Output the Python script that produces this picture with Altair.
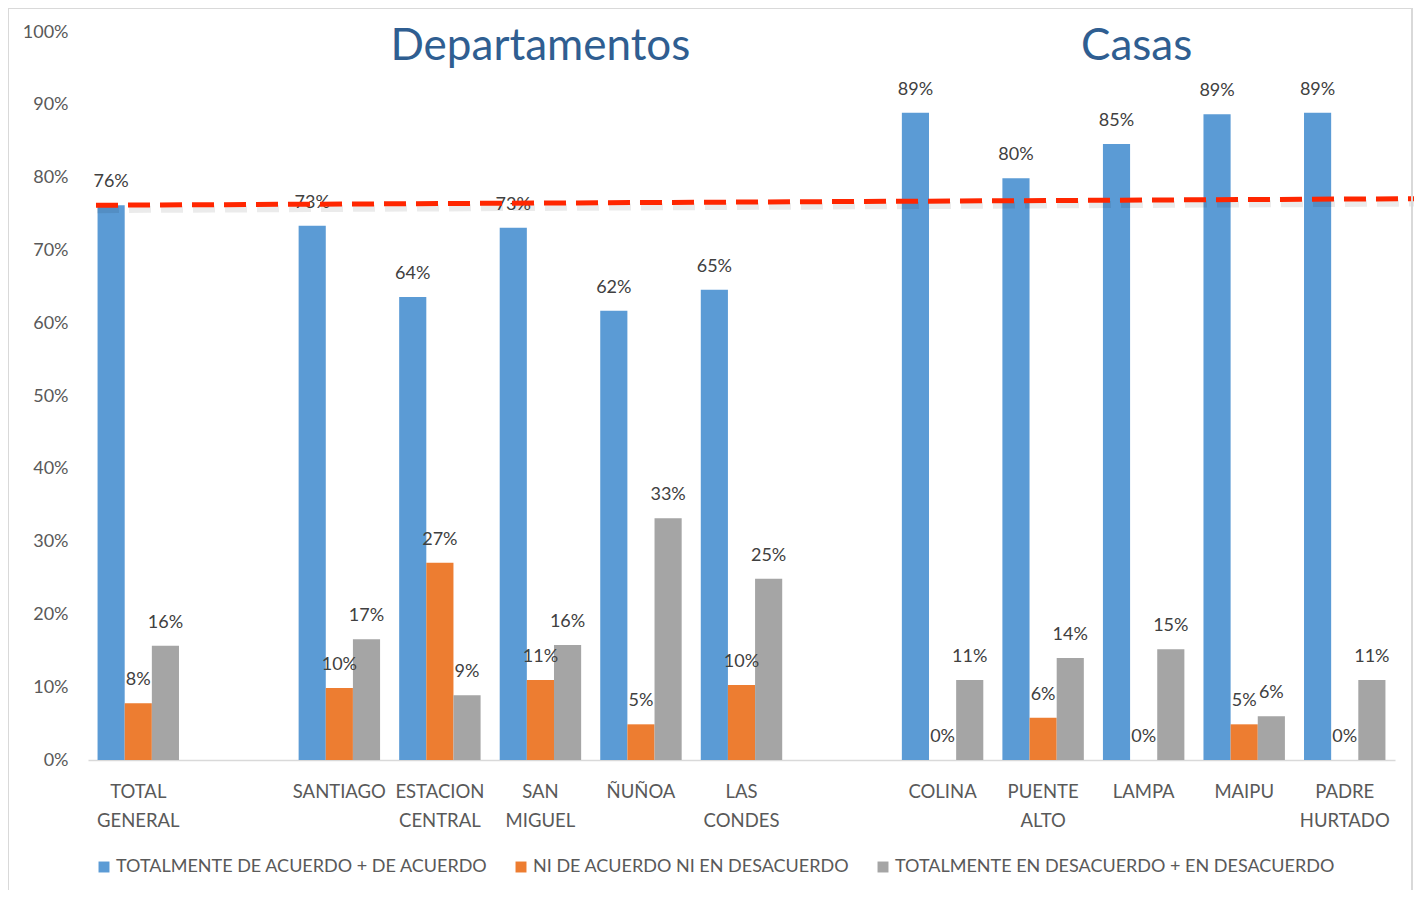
import altair as alt
import pandas as pd

slots = ["TOTAL GENERAL", "_b1", "SANTIAGO", "ESTACION CENTRAL", "SAN MIGUEL", "ÑUÑOA",
         "LAS CONDES", "_b2", "COLINA", "PUENTE ALTO", "LAMPA", "MAIPU", "PADRE HURTADO"]
categories = ["TOTAL GENERAL", "SANTIAGO", "ESTACION CENTRAL", "SAN MIGUEL", "ÑUÑOA",
              "LAS CONDES", "COLINA", "PUENTE ALTO", "LAMPA", "MAIPU", "PADRE HURTADO"]
series = ["TOTALMENTE DE ACUERDO + DE ACUERDO", "NI DE ACUERDO NI EN DESACUERDO",
          "TOTALMENTE EN DESACUERDO + EN DESACUERDO"]
acuerdo = [0.762, 0.734, 0.636, 0.731, 0.617, 0.646, 0.889, 0.799, 0.846, 0.887, 0.889]
neutral = [0.078, 0.099, 0.271, 0.110, 0.049, 0.103, 0.0, 0.058, 0.0, 0.049, 0.0]
desacuerdo = [0.157, 0.166, 0.089, 0.158, 0.332, 0.249, 0.110, 0.140, 0.152, 0.060, 0.110]
colors = ["#5B9BD5", "#ED7D31", "#A5A5A5"]
ref_line = [0.762, 0.771]
group_titles = ["Departamentos", "Casas"]
group_title_slots = ["SAN MIGUEL", "LAMPA"]
group_title_y = 0.980
y_ticks = [i / 10 for i in range(11)]

rows = []
for i, c in enumerate(categories):
    for s, vals in zip(series, [acuerdo, neutral, desacuerdo]):
        rows.append({"slot": c, "series": s, "value": vals[i]})
df = pd.DataFrame(rows)

FONT = "Lato"
x_enc = alt.X("slot:N", scale=alt.Scale(domain=slots, paddingInner=0.19, paddingOuter=0.095),
              axis=alt.Axis(title=None, labelAngle=0, ticks=False, domainColor="#D9D9D9",
                            domainWidth=1.5, labelFontSize=18.5, labelColor="#595959",
                            labelFont=FONT, labelLineHeight=29, labelPadding=22,
                            labelExpr="indexof(datum.label, '_b') == 0 ? '' : split(datum.label, ' ')"))
y_enc = alt.Y("value:Q", scale=alt.Scale(domain=[0, 1], nice=False),
              axis=alt.Axis(title=None, format=".0%", values=y_ticks, grid=False, ticks=False,
                            domain=False, labelFontSize=18, labelColor="#595959", labelFont=FONT,
                            labelPadding=20))
xoff = alt.XOffset("series:N", sort=series, scale=alt.Scale(paddingInner=0, paddingOuter=0))

base = alt.Chart(df)
bars = base.mark_bar().encode(
    x=x_enc, y=y_enc, xOffset=xoff,
    color=alt.Color("series:N", sort=series, scale=alt.Scale(domain=series, range=colors),
                    legend=alt.Legend(title=None, orient="none", legendX=7, legendY=826,
                                      direction="horizontal", symbolType="square", symbolSize=120,
                                      symbolStrokeWidth=0, labelFontSize=18, labelColor="#595959",
                                      labelFont=FONT, columnPadding=24, labelOffset=3,
                                      labelLimit=1000)),
)
labels = base.mark_text(fontSize=18, font=FONT, color="#404040", baseline="middle", dy=-23).encode(
    x=alt.X("slot:N", scale=alt.Scale(domain=slots)), y="value:Q", xOffset=xoff,
    text=alt.Text("value:Q", format=".0%"),
)

tdf = pd.DataFrame({"slot": group_title_slots, "t": group_titles, "value": [group_title_y] * 2})
title1 = alt.Chart(tdf.iloc[[0]]).mark_text(fontSize=44, font=FONT, color="#2F5E91",
                                            baseline="middle").encode(
    x=alt.X("slot:N", scale=alt.Scale(domain=slots)), y="value:Q", text="t:N")
title2 = alt.Chart(tdf.iloc[[1]]).mark_text(fontSize=44, font=FONT, color="#2F5E91",
                                            baseline="middle", dx=-7).encode(
    x=alt.X("slot:N", scale=alt.Scale(domain=slots)), y="value:Q", text="t:N")

shadow = alt.Chart(pd.DataFrame({"a": [0]})).mark_rule(
    color="#000000", opacity=0.08, strokeWidth=7, strokeDash=[22, 10]).encode(
    x=alt.value(9), x2=alt.value(1327),
    y=alt.datum(ref_line[0] - 0.006), y2=alt.datum(ref_line[1] - 0.006))
redline = alt.Chart(pd.DataFrame({"a": [0]})).mark_rule(
    color="#FF2600", strokeWidth=5, strokeDash=[22, 10]).encode(
    x=alt.value(8), x2=alt.value(1326),
    y=alt.datum(ref_line[0]), y2=alt.datum(ref_line[1]))

bd = alt.Chart(pd.DataFrame({"a": [0]}))
border_top = bd.mark_rule(color="#D9D9D9", strokeWidth=2).encode(
    x=alt.value(-80), x2=alt.value(1324), y=alt.value(-24), y2=alt.value(-24))
border_left = bd.mark_rule(color="#D9D9D9", strokeWidth=2).encode(
    x=alt.value(-80), x2=alt.value(-80), y=alt.value(-24), y2=alt.value(860))
border_right = bd.mark_rule(color="#D9D9D9", strokeWidth=2).encode(
    x=alt.value(1324), x2=alt.value(1324), y=alt.value(-24), y2=alt.value(860))

chart = alt.layer(bars, labels, title1, title2, shadow, redline,
                  border_top, border_left, border_right).properties(
    width=1307, height=728,
    padding={"left": 80, "top": 24, "right": 19, "bottom": 130},
    autosize=alt.AutoSizeParams(type="none"),
).configure(font=FONT).configure_view(stroke=None)

chart.save("out.html", embed_options={"renderer": "svg", "actions": False})
